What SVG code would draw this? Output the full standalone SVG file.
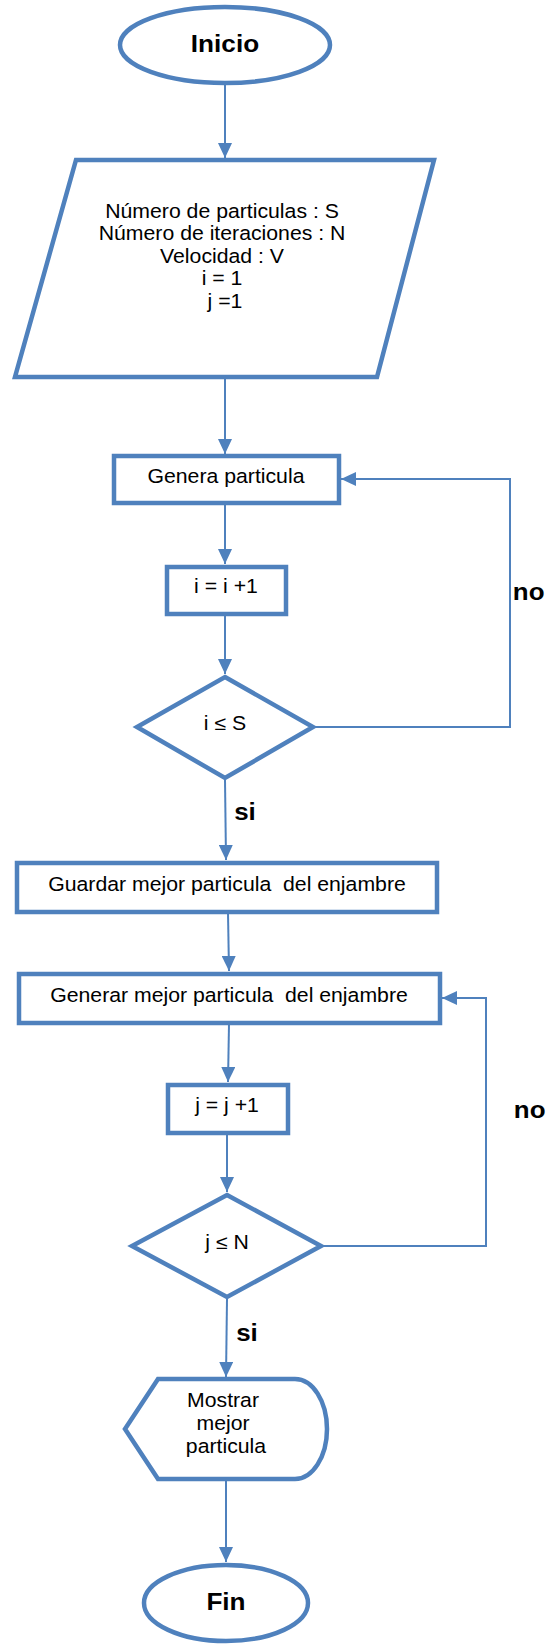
<svg xmlns="http://www.w3.org/2000/svg" width="552" height="1644" viewBox="0 0 552 1644">
  <style>
    .shape { fill: #ffffff; stroke: #4F81BD; stroke-width: 4.5; stroke-linejoin: miter; }
    .link { fill: none; stroke: #4F81BD; stroke-width: 2; }
    .t { font-family: "Liberation Sans", Arial, sans-serif; font-size: 19.5px; fill: #000000; text-anchor: middle;
         transform-box: fill-box; transform-origin: center; transform: scaleX(1.09); }
    .b { font-weight: bold; font-size: 24px; }
    .lbl { font-family: "Liberation Sans", Arial, sans-serif; font-weight: bold; font-size: 24px; fill: #000000;
           transform-box: fill-box; transform-origin: center; transform: scaleX(1.08); }
  </style>
  <defs>
    <marker id="arrow" viewBox="0 0 15 14" refX="15" refY="7" markerWidth="15" markerHeight="14"
            markerUnits="userSpaceOnUse" orient="auto">
      <path d="M0,0 L15,7 L0,14 z" fill="#4F81BD"/>
    </marker>
  </defs>

  <!-- connectors -->
  <g id="connectors">
    <line class="link" x1="225" y1="84" x2="225" y2="158" marker-end="url(#arrow)"/>
    <line class="link" x1="225" y1="378" x2="225" y2="454" marker-end="url(#arrow)"/>
    <line class="link" x1="225" y1="504" x2="225" y2="564" marker-end="url(#arrow)"/>
    <line class="link" x1="225" y1="615" x2="225" y2="674" marker-end="url(#arrow)"/>
    <polyline class="link" points="314,727 510,727 510,479 341,479" marker-end="url(#arrow)"/>
    <line class="link" x1="225" y1="780" x2="226" y2="860" marker-end="url(#arrow)"/>
    <line class="link" x1="228" y1="913" x2="229" y2="971" marker-end="url(#arrow)"/>
    <line class="link" x1="229" y1="1024" x2="228" y2="1082" marker-end="url(#arrow)"/>
    <line class="link" x1="227" y1="1134" x2="227" y2="1192" marker-end="url(#arrow)"/>
    <polyline class="link" points="322,1246 486,1246 486,998 442,998" marker-end="url(#arrow)"/>
    <line class="link" x1="227" y1="1299" x2="226" y2="1377" marker-end="url(#arrow)"/>
    <line class="link" x1="226" y1="1481" x2="226" y2="1562" marker-end="url(#arrow)"/>
  </g>

  <!-- branch labels -->
  <g id="labels">
    <text class="lbl" x="514" y="600">no</text>
    <text class="lbl" x="235" y="820">si</text>
    <text class="lbl" x="515" y="1118">no</text>
    <text class="lbl" x="237" y="1341">si</text>
  </g>

  <g id="inicio">
    <ellipse class="shape" cx="225" cy="45" rx="105" ry="38"/>
    <text class="t b" x="225" y="52">Inicio</text>
  </g>

  <g id="datos">
    <polygon class="shape" points="76,160 434,160 377,377 15,377"/>
    <text class="t" x="225" y="218">
      <tspan x="225" y="218">Número de particulas : S</tspan>
      <tspan x="225" y="240.5">Número de iteraciones : N</tspan>
      <tspan x="225" y="263">Velocidad : V</tspan>
      <tspan x="225" y="285.5">i = 1</tspan>
      <tspan x="225" y="308">j =1</tspan>
    </text>
  </g>

  <g id="genera">
    <rect class="shape" x="114" y="456" width="225" height="47"/>
    <text class="t" x="226" y="483">Genera particula</text>
  </g>

  <g id="inc-i">
    <rect class="shape" x="167" y="567" width="119" height="47"/>
    <text class="t" x="226" y="593">i = i +1</text>
  </g>

  <g id="cond-i">
    <polygon class="shape" points="225,677 313,727 225,778 137,727"/>
    <text class="t" x="225" y="730">i ≤ S</text>
  </g>

  <g id="guardar">
    <rect class="shape" x="17" y="863" width="420" height="49"/>
    <text class="t" x="227" y="891" xml:space="preserve">Guardar mejor particula  del enjambre</text>
  </g>

  <g id="generar">
    <rect class="shape" x="19" y="974" width="421" height="49"/>
    <text class="t" x="229" y="1002" xml:space="preserve">Generar mejor particula  del enjambre</text>
  </g>

  <g id="inc-j">
    <rect class="shape" x="168" y="1085" width="120" height="48"/>
    <text class="t" x="227" y="1112">j = j +1</text>
  </g>

  <g id="cond-j">
    <polygon class="shape" points="227,1195 321,1246 227,1297 132,1246"/>
    <text class="t" x="227" y="1249">j ≤ N</text>
  </g>

  <g id="mostrar">
    <path class="shape" d="M158,1379 L295,1379 A32,50 0 0 1 295,1479 L158,1479 L125,1429 Z"/>
    <text class="t">
      <tspan x="226" y="1407">Mostrar</tspan>
      <tspan x="226" y="1430">mejor</tspan>
      <tspan x="226" y="1453">particula</tspan>
    </text>
  </g>

  <g id="fin">
    <ellipse class="shape" cx="226" cy="1603" rx="82" ry="38"/>
    <text class="t b" x="226" y="1610">Fin</text>
  </g>
</svg>
